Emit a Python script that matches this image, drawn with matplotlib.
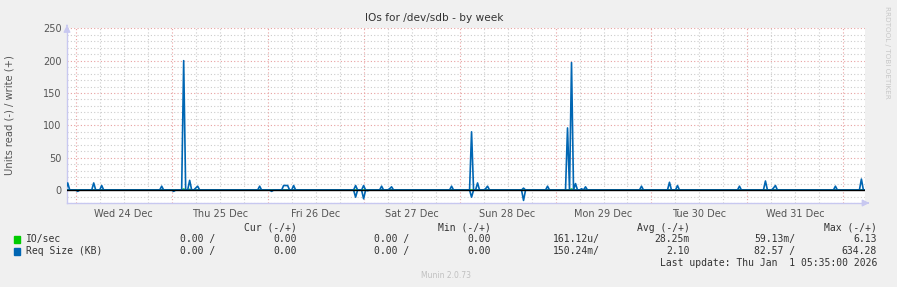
import numpy as np
import matplotlib
matplotlib.use('Agg')
import matplotlib.pyplot as plt

# hours relative to Wed 24 Dec 00:00
day_labels = ['Wed 24 Dec', 'Thu 25 Dec', 'Fri 26 Dec', 'Sat 27 Dec',
              'Sun 28 Dec', 'Mon 29 Dec', 'Tue 30 Dec', 'Wed 31 Dec']
t_start, t_end = -2.18, 197.4

# Req Size (KB) write (+) samples
write_t = [-2.0, 4.25, 6.25, 6.75, 21.75, 27.0, 28.25, 30.0, 30.5, 46.0,
           52.0, 52.5, 53.0, 54.75, 70.0, 72.0, 76.5, 78.5, 79.0, 94.0,
           99.0, 100.5, 102.5, 103.0, 112.0, 118.0, 123.0, 124.0, 125.0,
           126.75, 127.25, 141.75, 148.5, 150.25, 150.75, 166.0, 172.5,
           174.5, 175.0, 190.0, 196.5]
write_v = [11, 11, 3, 7, 6, 200, 15, 3, 6, 6,
           7, 7, 7, 7, 7, 7, 6, 2, 5, 6,
           90, 11, 2, 6, 3, 6, 96, 197, 10,
           2, 5, 6, 12, 3, 7, 6, 14,
           3, 7, 6, 17]
# Req Size (KB) read (-) samples
read_t = [0.75, 24.75, 49.0, 70.0, 72.0, 73.0, 99.0, 112.0]
read_v = [2, 2, 2, 11, 13.5, 1, 11, 16]
# IO/sec samples
io_t = [27.0, 124.0, 28.25]
io_v = [1.5, 1.5, 1.0]

grid_t = np.arange(-2.5, 197.51, 0.5)

def series(ts, vs, sign=1):
    s = np.zeros(len(grid_t))
    for t, v in zip(ts, vs):
        i = int(round((t - grid_t[0]) / 0.5))
        s[i] = sign * v
    return s

req_w = series(write_t, write_v)
req_r = series(read_t, read_v, -1)
io_w = series(io_t, io_v)

bg = '#f0f0f0'
blue = '#0066b3'
green = '#00cc00'
txt = '#555555'

fig = plt.figure(figsize=(8.97, 2.87), dpi=100, facecolor=bg)
ax = fig.add_axes([67/897, 84/287, 798/897, 174.7/287])
ax.set_facecolor('white')
ax.set_xlim(t_start, t_end)
ax.set_ylim(-20, 250)

# grid
for y in range(-20, 251, 10):
    if y == 0:
        continue
    major = y % 50 == 0
    ax.axhline(y, color='#e8a0a0' if major else '#cccccc', lw=0.8,
               ls=(0, (1, 2)), zorder=1)
for h in np.arange(0, 197, 6):
    major = h % 24 == 0
    ax.axvline(h, color='#e8a0a0' if major else '#cccccc', lw=0.8,
               ls=(0, (1, 2)), zorder=1)

ax.plot(grid_t, io_w, color=green, lw=1.2, zorder=3)
ax.plot(grid_t, req_w, color=blue, lw=1.2, zorder=4)
ax.plot(grid_t, req_r, color=blue, lw=1.2, zorder=4)
ax.axhline(0, color='black', lw=1.0, zorder=5)

for s in ['top', 'right']:
    ax.spines[s].set_visible(False)
for s in ['left', 'bottom']:
    ax.spines[s].set_color('#c8c8f0')
    ax.spines[s].set_linewidth(1)
ax.annotate('', xy=(t_end + 1.8, -20), xytext=(t_end, -20),
            arrowprops=dict(arrowstyle='-|>', color='#c8c8f0', lw=1),
            annotation_clip=False)
ax.annotate('', xy=(t_start, 255), xytext=(t_start, 250),
            arrowprops=dict(arrowstyle='-|>', color='#c8c8f0', lw=1),
            annotation_clip=False)

ax.set_yticks([0, 50, 100, 150, 200, 250])
ax.set_xticks([12 + 24 * i for i in range(len(day_labels))])
ax.set_xticklabels(day_labels)
ax.tick_params(axis='both', length=0, labelsize=7, colors=txt, pad=4)

fig.text(434/897, 1 - 18/287, 'IOs for /dev/sdb - by week', ha='center',
         va='center', fontsize=7.6, color='#333333')
fig.text(10/897, 1 - 115/287, 'Units read (-) / write (+)', rotation=90,
         ha='center', va='center', fontsize=7.2, color=txt)
fig.text(887/897, 1 - 52/287, 'RRDTOOL / TOBI OETIKER', rotation=-90,
         ha='center', va='center', fontsize=5.2, color='#c8c8c8')

mono = dict(family='DejaVu Sans Mono', fontsize=7, color='#333333', va='center')
hdr_y = 1 - 228/287
for x, lab in [(297, 'Cur (-/+)'), (491, 'Min (-/+)'), (690, 'Avg (-/+)'), (877, 'Max (-/+)')]:
    fig.text(x/897, hdr_y, lab, ha='right', **mono)

rows = [
    ('IO/sec', green, ['0.00 /', '0.00', '0.00 /', '0.00', '161.12u/', '28.25m', '59.13m/', '6.13']),
    ('Req Size (KB)', blue, ['0.00 /', '0.00', '0.00 /', '0.00', '150.24m/', '2.10', '82.57 /', '634.28']),
]
col_x = [215, 297, 409, 491, 600, 690, 795, 877]
for r, (name, col, vals) in enumerate(rows):
    y = 1 - (239 + 12 * r)/287
    fig.patches.append(plt.Rectangle((14/897, y - 3.5/287), 6/897, 6.5/287,
                                     transform=fig.transFigure, color=col))
    fig.text(26/897, y, name, ha='left', **mono)
    for x, v in zip(col_x, vals):
        fig.text(x/897, y, v, ha='right', **mono)

fig.text(877/897, 1 - 263/287, 'Last update: Thu Jan  1 05:35:00 2026',
         ha='right', **mono)
fig.text(446/897, 1 - 275/287, 'Munin 2.0.73', ha='center', va='center',
         fontsize=5.5, color='#c0c0c0')

plt.savefig('out.png', dpi=100, facecolor=bg)
